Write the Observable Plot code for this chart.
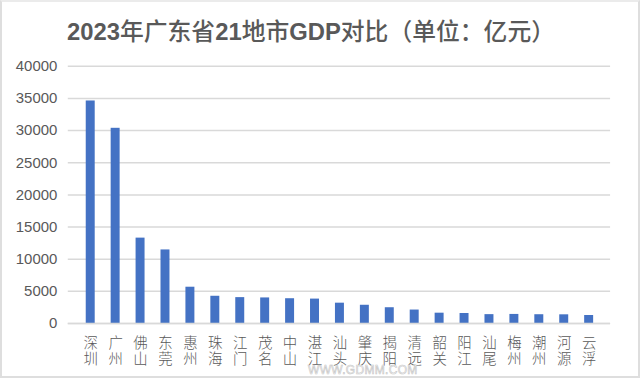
<!DOCTYPE html>
<html><head><meta charset="utf-8">
<script src="https://cdn.jsdelivr.net/npm/d3@7"></script>
<script src="https://cdn.jsdelivr.net/npm/@observablehq/plot@0.6"></script>
<style>
html,body{margin:0;padding:0;background:#fff;}
#wrap{position:relative;width:640px;height:378px;overflow:hidden;box-sizing:border-box;border:2px solid #dedede;border-top:2px solid #ebebeb;}
#title{position:absolute;top:13px;left:0;width:618px;text-align:center;font-family:"Liberation Sans","Noto Sans CJK SC",sans-serif;font-size:23.8px;line-height:30px;color:#595959;white-space:nowrap;}
#title b{font-weight:bold;}
#title span{font-family:"Noto Sans CJK SC",sans-serif;font-weight:500;}
#chart{position:absolute;left:-2px;top:-2px;}
#wm{position:absolute;left:306px;top:362px;font-family:"Liberation Sans",sans-serif;font-size:12px;line-height:13px;color:#fff;-webkit-text-stroke:0.6px #c4c4c4;letter-spacing:0.3px;}
</style></head>
<body>
<div id="wrap">
<div id="chart"></div>
<div id="title"><b>2023</b><span>年广东省</span><b>21</b><span>地市</span><b>GDP</b><span>对比（单位：亿元）</span></div>
<div id="wm">WWW.GDMM.COM</div>
</div>
<script>
const cities = ["深圳","广州","佛山","东莞","惠州","珠海","江门","茂名","中山","湛江","汕头","肇庆","揭阳","清远","韶关","阳江","汕尾","梅州","潮州","河源","云浮"];
const gdp = [34606, 30356, 13276, 11438, 5640, 4233, 4022, 3974, 3851, 3793, 3158, 2833, 2449, 2090, 1602, 1552, 1376, 1408, 1363, 1348, 1240];
const yTicks = [0,5000,10000,15000,20000,25000,30000,35000,40000];
const data = cities.map((c,i)=>({city:c, value:gdp[i]}));

const chart = Plot.plot({
  width: 640, height: 378,
  marginTop: 66, marginBottom: 54, marginLeft: 68, marginRight: 28,
  style: {fontFamily: "'Liberation Sans','Noto Sans CJK SC',sans-serif", color: "#595959", background: "transparent"},
  x: {domain: cities, paddingInner: 0.66, paddingOuter: 0.33, label: null},
  y: {domain: [0, 40000], label: null},
  marks: [
    Plot.gridY(yTicks, {stroke: "#d9d9d9", strokeOpacity: 1, strokeWidth: 1.5}),
    Plot.barY(data, {x: "city", y: "value", fill: "#4472C4"}),
    Plot.ruleY([0], {stroke: "#d9d9d9", strokeWidth: 1.5}),
    Plot.axisY(yTicks, {tickSize: 0, tickPadding: 11, fontSize: 15, label: null, tickFormat: d => String(d), fill: "#595959"}),
    Plot.axisX({tickSize: 0, tickPadding: 28, fontSize: 14.5, label: null, fill: "#595959",
      fontFamily: "'Noto Sans CJK SC',sans-serif", fontWeight: 300, tickFormat: d => d})
  ]
});
// stack the two characters of each city name vertically, as in the reference
chart.querySelectorAll('g[aria-label="x-axis tick label"] text').forEach(t => {
  t.removeAttribute("y");
  t.removeAttribute("dy");
  t.setAttribute("text-anchor", "middle");
  t.style.writingMode = "vertical-rl";
  t.style.letterSpacing = "1.5px";
});
document.getElementById("chart").appendChild(chart);
</script>
</body></html>
